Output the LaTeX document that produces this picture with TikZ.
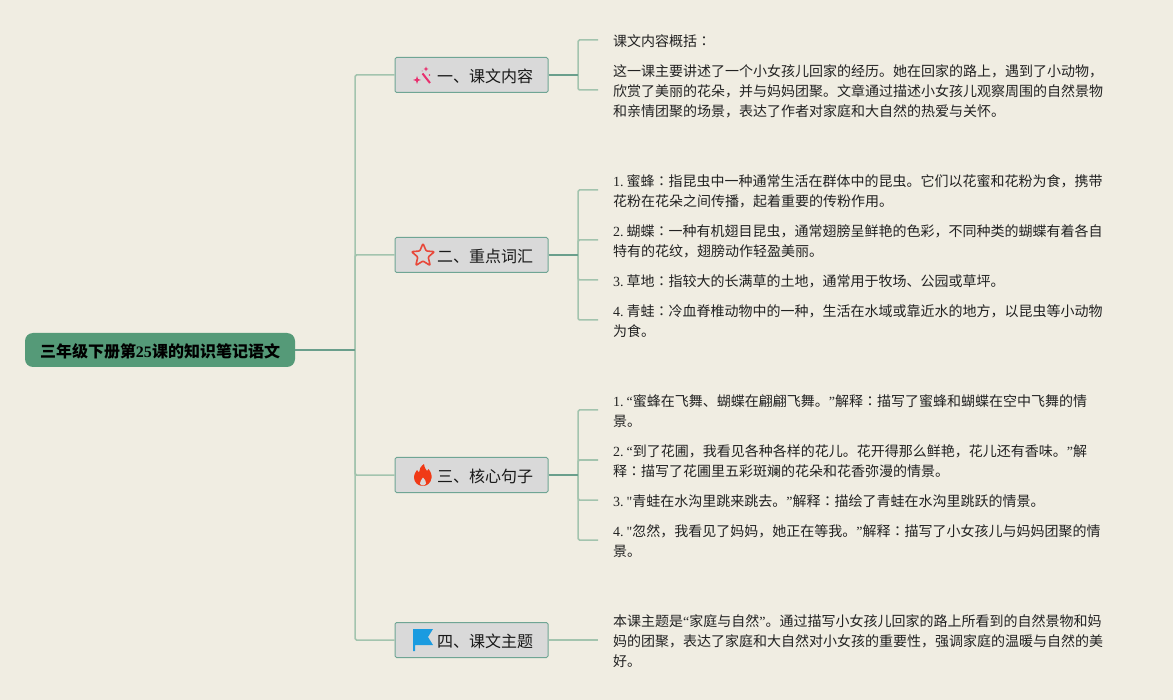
\documentclass[tikz,border=0pt]{standalone}
\usepackage{fontspec}
\setmainfont{Noto Sans CJK SC}
\newfontfamily\serfont{Liberation Serif}
\newfontfamily\jpfont{Noto Sans CJK JP}
\newcommand\rn[1]{{\serfont #1}}
\newcommand\num[1]{{\serfont #1.}\hspace{3pt}}
\newcommand\colonmark{{\jpfont ：}}
\definecolor{bgc}{HTML}{F0EDE2}
\definecolor{rootc}{HTML}{559A78}
\definecolor{topicfill}{HTML}{D9D9D9}
\definecolor{topicline}{HTML}{6FA594}
\definecolor{stemc}{HTML}{6A9F8C}
\definecolor{branchc}{HTML}{A3C4AE}
\definecolor{textc}{HTML}{222222}
\definecolor{wandc}{HTML}{E8306E}
\definecolor{starc}{HTML}{E8483A}
\definecolor{flamec}{HTML}{F03A17}
\definecolor{flagc}{HTML}{1A9BE0}
\tikzset{
  rootbox/.style={draw=none,fill=rootc,rounded corners=8pt,minimum width=270pt,minimum height=34pt,inner sep=0pt,text height=18pt,text depth=3pt,font=\fontsize{16}{20}\selectfont\bfseries,text=black},
  topicbox/.style={draw=topicline,line width=1pt,fill=topicfill,rounded corners=1.5pt,minimum width=153pt,minimum height=35pt,inner sep=0pt,text height=18pt,text depth=3pt,font=\fontsize{16}{20}\selectfont,text=black!90},
  leafbox/.style={anchor=west,inner xsep=15pt,inner ysep=0pt,align=left,font=\fontsize{14}{20}\selectfont,text=textc},
  trunk/.style={draw=branchc,line width=1.5pt,rounded corners=1.5pt},
  rootlink/.style={draw=stemc,line width=1.5pt},
  stem/.style={draw=stemc,line width=2pt},
  branch/.style={draw=branchc,line width=1.5pt,rounded corners=1.5pt}
}
\begin{document}
\begin{tikzpicture}[x=1pt,y=-1pt]
\useasboundingbox (0,0) rectangle (1173,700);
\fill[bgc] (0,0) rectangle (1173,700);

\node[rootbox] (root) at (160,350) {三年级下册第\rn{25}课的知识笔记语文};
\node[topicbox] (t1) at (471.5,75) {\hspace*{27pt}一、课文内容};
\node[topicbox] (t2) at (471.5,255) {\hspace*{27pt}二、重点词汇};
\node[topicbox] (t3) at (471.5,475) {\hspace*{27pt}三、核心句子};
\node[topicbox] (t4) at (471.5,640) {\hspace*{27pt}四、课文主题};

\coordinate (hub) at (355,350);
\coordinate (s1) at (578,75);
\coordinate (s2) at (578,255);
\coordinate (s3) at (578,475);

\node[leafbox] (a1) at (598,41) {课文内容概括\colonmark};
\node[leafbox] (a2) at (598,91) {这一课主要讲述了一个小女孩儿回家的经历。她在回家的路上，遇到了小动物，\\欣赏了美丽的花朵，并与妈妈团聚。文章通过描述小女孩儿观察周围的自然景物\\和亲情团聚的场景，表达了作者对家庭和大自然的热爱与关怀。};

\node[leafbox] (b1) at (598,191) {\num{1}蜜蜂\colonmark 指昆虫中一种通常生活在群体中的昆虫。它们以花蜜和花粉为食，携带\\花粉在花朵之间传播，起着重要的传粉作用。};
\node[leafbox] (b2) at (598,241) {\num{2}蝴蝶\colonmark 一种有机翅目昆虫，通常翅膀呈鲜艳的色彩，不同种类的蝴蝶有着各自\\特有的花纹，翅膀动作轻盈美丽。};
\node[leafbox] (b3) at (598,281) {\num{3}草地\colonmark 指较大的长满草的土地，通常用于牧场、公园或草坪。};
\node[leafbox] (b4) at (598,321) {\num{4}青蛙\colonmark 冷血脊椎动物中的一种，生活在水域或靠近水的地方，以昆虫等小动物\\为食。};

\node[leafbox] (c1) at (598,411) {\num{1}\rn{“}蜜蜂在飞舞、蝴蝶在翩翩飞舞。\rn{”}解释\colonmark 描写了蜜蜂和蝴蝶在空中飞舞的情\\景。};
\node[leafbox] (c2) at (598,461) {\num{2}\rn{“}到了花圃，我看见各种各样的花儿。花开得那么鲜艳，花儿还有香味。\rn{”}解\\释\colonmark 描写了花圃里五彩斑斓的花朵和花香弥漫的情景。};
\node[leafbox] (c3) at (598,501) {\num{3}\rn{"}青蛙在水沟里跳来跳去。\rn{”}解释\colonmark 描绘了青蛙在水沟里跳跃的情景。};
\node[leafbox] (c4) at (598,541) {\num{4}\rn{"}忽然，我看见了妈妈，她正在等我。\rn{”}解释\colonmark 描写了小女孩儿与妈妈团聚的情\\景。};

\node[leafbox] (d1) at (598,641) {本课主题是\rn{“}家庭与自然\rn{”}。通过描写小女孩儿回家的路上所看到的自然景物和妈\\妈的团聚，表达了家庭和大自然对小女孩的重要性，强调家庭的温暖与自然的美\\好。};

% root to topics
\draw[trunk] (hub) |- (t1.west);
\draw[trunk] (hub) |- (t2.west);
\draw[trunk] (hub) |- (t3.west);
\draw[trunk] (hub) |- (t4.west);
\draw[rootlink] (root.east) -- (hub);

% topics to leaves
\foreach \s/\k in {s1/a1,s1/a2,s2/b1,s2/b2,s2/b3,s2/b4,s3/c1,s3/c2,s3/c3,s3/c4}
  \draw[branch] (\s) |- ([yshift=1pt]\k.west);
\draw[stem] (t1.east) -- (s1);
\draw[stem] (t2.east) -- (s2);
\draw[stem] (t3.east) -- (s3);
\draw[branch] (t4.east) -- ([yshift=1pt]d1.west);

% wand
\draw[wandc,line width=2pt] (422.5,73.5) -- (430,83);
\fill[wandc] (417,76) -- (418,79) -- (421,80) -- (418,81) -- (417,84) -- (416,81) -- (413,80) -- (416,79) -- cycle;
\fill[wandc] (426,66.5) -- (426.7,68.3) -- (428.5,69) -- (426.7,69.7) -- (426,71.5) -- (425.3,69.7) -- (423.5,69) -- (425.3,68.3) -- cycle;
\fill[wandc] (429.5,75) circle (0.9pt);
\fill[wandc] (422,71) circle (0.5pt);
% star
\draw[draw=starc,line width=1.6pt,line join=round,rounded corners=1pt]
  (423,243.5) -- (426.2,251) -- (434.5,251.7) -- (428.2,257) -- (430.2,265.5) -- (423,261) -- (415.8,265.5) -- (417.8,257) -- (411.5,251.7) -- (419.8,251) -- cycle;
% flame
\fill[flamec] (424,464) .. controls (424.5,468) and (426,469.5) .. (427,471) .. controls (427.5,470.5) and (428,470) .. (428.5,469)
  .. controls (431,472) and (432,475.5) .. (431.5,478) .. controls (431,483) and (427,486) .. (423,486)
  .. controls (418,486) and (414,482.5) .. (414,477.5) .. controls (414,474) and (416,471.5) .. (417,470)
  .. controls (417.5,471) and (418,472) .. (419,472.5) .. controls (419,469) and (421,466) .. (424,464) -- cycle;
\fill[topicfill] (423,477.5) .. controls (424.8,479.5) and (426.5,481.5) .. (426,483.5) .. controls (425.5,485) and (424,485.5) .. (423,485.5) .. controls (421.8,485.5) and (420,485) .. (420,483.5) .. controls (420,481.5) and (421.5,479.5) .. (423,477.5) -- cycle;
% flag
\fill[flagc] (413,629) -- (433,629) -- (428,637) -- (433,645) -- (415,645) -- (415,651) -- (413,651) -- cycle;
\end{tikzpicture}
\end{document}
